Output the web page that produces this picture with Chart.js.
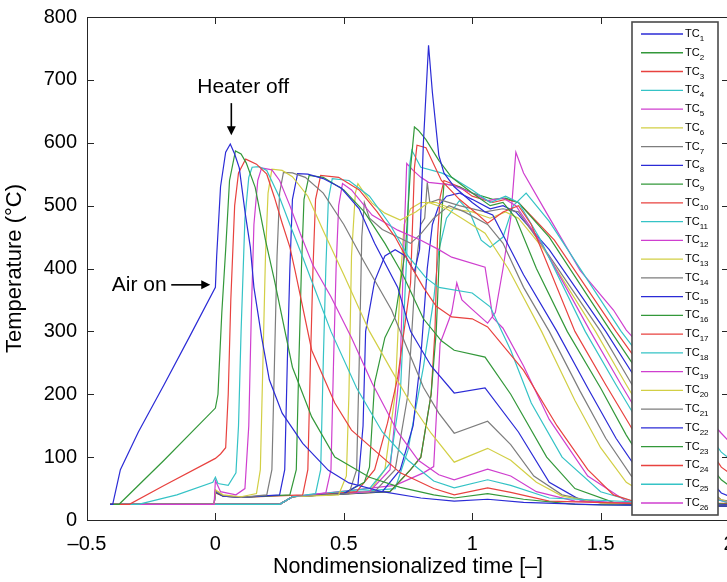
<!DOCTYPE html>
<html>
<head>
<meta charset="utf-8">
<script src="https://cdn.jsdelivr.net/npm/chart.js@4.4.1/dist/chart.umd.min.js"></script>
<style>
  html, body { margin: 0; padding: 0; background: #fff; overflow: hidden; }
  canvas { display: block; }
</style>
</head>
<body>
<canvas id="chart" width="760" height="582"></canvas>
<script>
// ── Thermocouple traces: [time, temperature °C] ─────────────────────────────

const tc1 = [[-0.41,25],[-0.40,25],[-0.37,80],[-0.3,140],[-0.2,215],[-0.1,292],[0,370],[0.005,420],[0.02,530],[0.04,585],[0.058,598],[0.075,582],[0.093,560],[0.116,488],[0.136,434],[0.15,370],[0.18,291],[0.21,223],[0.26,170],[0.34,122],[0.44,79],[0.52,59],[0.65,45],[0.8,35],[0.93,30],[1.06,33],[1.2,28],[1.5,24],[2.0,22]];
const tc2 = [[-0.41,25],[-0.375,25],[-0.2,95],[0,178],[0.01,200],[0.025,330],[0.04,430],[0.055,540],[0.078,587],[0.1,582],[0.12,568],[0.155,529],[0.195,445],[0.23,381],[0.3,243],[0.375,164],[0.465,100],[0.6,68],[0.72,52],[0.85,40],[0.93,35],[1.06,42],[1.2,33],[1.4,25],[2.0,22]];
const tc3 = [[-0.41,25],[-0.335,25],[-0.2,55],[0,98],[0.02,105],[0.04,115],[0.05,200],[0.06,350],[0.075,500],[0.09,552],[0.118,574],[0.16,566],[0.2,550],[0.23,513],[0.26,472],[0.29,434],[0.31,397],[0.375,270],[0.465,186],[0.53,143],[0.65,100],[0.72,75],[0.85,50],[0.93,40],[1.06,51],[1.15,44],[1.3,30],[2.0,22]];
const tc4 = [[-0.41,25],[-0.3,25],[-0.15,40],[-0.01,60],[0,68],[0.01,58],[0.05,55],[0.08,75],[0.09,150],[0.1,300],[0.115,480],[0.13,545],[0.143,561],[0.17,562],[0.2,556],[0.25,513],[0.29,470],[0.34,418],[0.375,380],[0.45,300],[0.55,210],[0.65,140],[0.75,95],[0.85,62],[0.93,51],[1.06,64],[1.15,55],[1.3,35],[2.0,22]];
const tc5 = [[-0.41,25],[-0.005,25],[0,63],[0.02,45],[0.08,40],[0.115,50],[0.13,150],[0.14,330],[0.15,470],[0.165,540],[0.18,560],[0.22,557],[0.25,540],[0.29,500],[0.33,456],[0.38,405],[0.45,355],[0.53,290],[0.61,218],[0.71,140],[0.79,95],[0.87,72],[0.93,64],[1.06,81],[1.15,70],[1.25,45],[1.4,30],[2.0,22]];
const tc6 = [[-0.41,25],[-0.005,25],[0,48],[0.03,40],[0.1,37],[0.16,42],[0.175,80],[0.185,250],[0.195,420],[0.205,520],[0.22,558],[0.26,556],[0.3,546],[0.36,515],[0.42,460],[0.5,390],[0.6,300],[0.686,238],[0.76,186],[0.84,138],[0.93,92],[1.06,114],[1.15,95],[1.25,60],[1.35,38],[1.5,27],[2.0,22]];
const tc7 = [[-0.41,25],[-0.005,25],[0,46],[0.03,39],[0.1,36],[0.2,40],[0.22,80],[0.23,250],[0.24,420],[0.25,520],[0.265,553],[0.3,552],[0.35,545],[0.42,520],[0.5,470],[0.58,410],[0.686,334],[0.75,270],[0.81,211],[0.87,170],[0.93,138],[1.06,157],[1.15,120],[1.24,70],[1.35,40],[1.5,27],[2.0,22]];
const tc8 = [[-0.41,25],[-0.005,25],[0,45],[0.03,38],[0.1,36],[0.25,40],[0.27,80],[0.28,250],[0.29,400],[0.3,510],[0.32,551],[0.36,550],[0.42,543],[0.49,528],[0.56,495],[0.62,440],[0.71,370],[0.76,300],[0.84,245],[0.93,202],[1.05,210],[1.18,140],[1.3,60],[1.42,32],[1.6,25],[2.0,22]];
const tc9 = [[-0.41,25],[-0.005,25],[0,44],[0.03,38],[0.1,36],[0.29,40],[0.315,80],[0.325,250],[0.335,400],[0.345,510],[0.365,548],[0.42,545],[0.5,525],[0.58,490],[0.66,440],[0.73,390],[0.81,320],[0.88,285],[0.93,270],[1.05,259],[1.15,200],[1.29,100],[1.4,50],[1.55,28],[2.0,22]];
const tc10 = [[-0.41,25],[-0.005,25],[0,43],[0.03,38],[0.1,36],[0.34,40],[0.36,80],[0.37,250],[0.38,400],[0.39,510],[0.41,548],[0.48,545],[0.56,525],[0.63,490],[0.7,450],[0.76,405],[0.81,370],[0.86,340],[0.92,323],[1.0,320],[1.06,307],[1.2,238],[1.33,150],[1.45,80],[1.55,40],[1.65,27],[2.0,22]];
const tc11 = [[-0.41,25],[0.25,25],[0.3,37],[0.39,42],[0.41,80],[0.42,250],[0.43,400],[0.44,510],[0.455,543],[0.52,540],[0.6,515],[0.68,470],[0.75,420],[0.82,385],[0.87,370],[1.0,361],[1.07,339],[1.15,270],[1.23,186],[1.35,100],[1.5,45],[1.65,27],[2.0,22]];
const tc12 = [[-0.41,25],[0.25,25],[0.3,37],[0.43,43],[0.45,80],[0.46,250],[0.47,400],[0.48,500],[0.495,535],[0.53,525],[0.61,485],[0.71,461],[0.8,445],[0.87,430],[0.92,418],[1.05,402],[1.07,350],[1.08,322],[1.12,305],[1.2,245],[1.3,160],[1.45,70],[1.6,30],[2.0,22]];
const tc13 = [[-0.41,25],[0.25,25],[0.3,37],[0.48,40],[0.51,70],[0.52,200],[0.53,420],[0.545,520],[0.555,535],[0.58,520],[0.61,504],[0.66,488],[0.72,477],[0.78,490],[0.83,505],[0.9,495],[0.97,477],[1.05,456],[1.14,400],[1.27,300],[1.4,190],[1.5,115],[1.6,60],[1.7,35],[1.85,25],[2.0,22]];
const tc14 = [[-0.41,25],[0.25,25],[0.3,37],[0.52,42],[0.55,80],[0.56,250],[0.57,450],[0.58,505],[0.6,480],[0.65,462],[0.71,450],[0.76,440],[0.8,455],[0.85,480],[0.91,500],[0.97,490],[1.06,470],[1.12,440],[1.2,370],[1.3,300],[1.42,205],[1.52,130],[1.62,70],[1.72,38],[1.85,26],[2.0,23]];
const tc15 = [[-0.41,25],[0.25,25],[0.3,37],[0.5,42],[0.555,55],[0.575,150],[0.585,300],[0.62,380],[0.66,420],[0.7,430],[0.74,420],[0.775,395],[0.795,430],[0.81,600],[0.83,755],[0.845,680],[0.87,580],[0.89,552],[0.93,530],[1.0,505],[1.05,490],[1.08,485],[1.2,390],[1.33,300],[1.45,210],[1.56,130],[1.66,70],[1.76,35],[1.88,26],[2.0,24]];
const tc16 = [[-0.41,25],[0.25,25],[0.3,37],[0.5,42],[0.58,60],[0.6,84],[0.62,218],[0.66,290],[0.7,323],[0.74,429],[0.76,560],[0.775,625],[0.79,620],[0.82,605],[0.87,572],[0.92,545],[1.0,520],[1.07,500],[1.12,505],[1.17,480],[1.25,400],[1.37,300],[1.5,210],[1.6,135],[1.7,70],[1.8,38],[1.92,27],[2.0,25]];
const tc17 = [[-0.41,25],[0.25,25],[0.3,37],[0.55,45],[0.62,80],[0.67,154],[0.71,227],[0.76,377],[0.775,560],[0.785,596],[0.82,592],[0.88,540],[0.95,510],[1.01,490],[1.06,472],[1.12,490],[1.18,500],[1.23,470],[1.4,300],[1.52,215],[1.63,140],[1.73,75],[1.83,40],[1.95,27],[2.0,26]];
const tc18 = [[-0.41,25],[0.25,25],[0.3,37],[0.6,50],[0.68,90],[0.72,200],[0.745,420],[0.755,560],[0.765,588],[0.8,561],[0.88,552],[0.92,545],[1.0,525],[1.07,505],[1.13,515],[1.18,505],[1.26,450],[1.44,300],[1.56,215],[1.67,140],[1.77,80],[1.87,42],[2.0,27]];
const tc19 = [[-0.41,25],[0.25,25],[0.3,37],[0.6,45],[0.68,80],[0.72,250],[0.735,450],[0.745,567],[0.77,556],[0.8,545],[0.83,537],[0.92,533],[1.0,520],[1.06,508],[1.12,512],[1.17,500],[1.27,440],[1.46,300],[1.58,215],[1.69,140],[1.79,80],[1.9,40],[2.0,27]];
const tc20 = [[-0.41,25],[0.25,25],[0.3,37],[0.6,45],[0.66,80],[0.7,200],[0.72,380],[0.735,470],[0.76,495],[0.8,505],[0.86,505],[0.92,495],[1.0,490],[1.07,480],[1.13,490],[1.18,480],[1.28,430],[1.48,300],[1.6,215],[1.71,140],[1.82,75],[1.93,38],[2.0,28]];
const tc21 = [[-0.41,25],[0.25,25],[0.3,37],[0.62,45],[0.7,80],[0.75,200],[0.78,400],[0.8,470],[0.815,480],[0.825,537],[0.835,505],[0.87,510],[0.95,500],[1.05,490],[1.12,495],[1.18,490],[1.3,420],[1.5,300],[1.63,210],[1.75,135],[1.86,75],[1.97,32],[2.0,30]];
const tc22 = [[-0.41,25],[0.25,25],[0.3,37],[0.65,45],[0.72,80],[0.77,150],[0.8,260],[0.825,400],[0.845,470],[0.87,500],[0.9,515],[0.95,520],[1.0,510],[1.07,495],[1.12,500],[1.17,490],[1.3,430],[1.52,300],[1.66,210],[1.78,135],[1.88,85],[1.97,43],[2.0,38]];
const tc23 = [[-0.41,25],[0.25,25],[0.3,37],[0.68,45],[0.76,80],[0.8,100],[0.84,200],[0.86,300],[0.875,450],[0.89,535],[0.95,530],[1.0,520],[1.08,510],[1.13,512],[1.18,505],[1.3,450],[1.54,300],[1.68,215],[1.8,150],[1.9,100],[1.97,64],[2.0,55]];
const tc24 = [[-0.41,25],[0.25,25],[0.3,37],[0.68,45],[0.76,80],[0.8,100],[0.84,200],[0.855,300],[0.865,450],[0.875,513],[0.89,540],[0.95,530],[1.0,515],[1.08,505],[1.13,510],[1.18,505],[1.32,445],[1.56,300],[1.7,220],[1.82,160],[1.92,115],[1.97,84],[2.0,75]];
const tc25 = [[-0.41,25],[0.25,25],[0.3,37],[0.7,50],[0.75,111],[0.81,243],[0.85,350],[0.87,429],[0.9,480],[0.95,508],[0.99,490],[1.035,445],[1.07,434],[1.12,450],[1.16,500],[1.21,520],[1.3,475],[1.58,300],[1.72,225],[1.84,170],[1.93,130],[1.97,108],[2.0,98]];
const tc26 = [[-0.41,25],[0.25,25],[0.3,37],[0.7,55],[0.81,75],[0.85,85],[0.865,200],[0.875,281],[0.89,297],[0.92,330],[0.94,377],[0.96,350],[1.0,335],[1.06,313],[1.09,330],[1.12,400],[1.15,480],[1.17,585],[1.2,552],[1.29,488],[1.42,397],[1.55,334],[1.6,302],[1.75,235],[1.9,170],[1.97,138],[2.0,125]];

const traces = [tc1, tc2, tc3, tc4, tc5, tc6, tc7, tc8, tc9, tc10, tc11, tc12, tc13,
                tc14, tc15, tc16, tc17, tc18, tc19, tc20, tc21, tc22, tc23, tc24, tc25, tc26];
const subscripts = traces.map((_, i) => String(i + 1));

const xTicks = [-0.5, 0, 0.5, 1, 1.5, 2];
const yTicks = [0, 100, 200, 300, 400, 500, 600, 700, 800];

// blue, green, red, cyan, magenta, yellow, grey — cycled
const COLORS = ['#2b2bd6', '#33983a', '#e8423f', '#35c3c6', '#cf3fcf', '#d2cf45', '#7d7d7d'];
const FONT = '"Liberation Sans", Arial, Helvetica, sans-serif';

function fmtTick(v) {
  return v < 0 ? '\u2013' + Math.abs(v) : String(v);
}

// ── Box, inward ticks, annotations, legend ──────────────────────────────────

const decorations = {
  id: 'decorations',
  afterDatasetsDraw(chart) {
    const { ctx, chartArea: a, scales: { x, y } } = chart;
    ctx.save();

    // axes box with MATLAB-style inward ticks
    ctx.strokeStyle = '#262626';
    ctx.lineWidth = 1;
    ctx.strokeRect(a.left + 0.5, a.top + 0.5, a.right - a.left, a.bottom - a.top);
    ctx.beginPath();
    xTicks.forEach(v => {
      const px = Math.round(x.getPixelForValue(v)) + 0.5;
      ctx.moveTo(px, a.bottom); ctx.lineTo(px, a.bottom - 7);
      ctx.moveTo(px, a.top);    ctx.lineTo(px, a.top + 7);
    });
    yTicks.forEach(v => {
      const py = Math.round(y.getPixelForValue(v)) + 0.5;
      ctx.moveTo(a.left, py);  ctx.lineTo(a.left + 7, py);
      ctx.moveTo(a.right, py); ctx.lineTo(a.right - 7, py);
    });
    ctx.stroke();

    // "Heater off" arrow
    ctx.fillStyle = '#000';
    ctx.strokeStyle = '#000';
    ctx.lineWidth = 1.6;
    ctx.font = '21px ' + FONT;
    ctx.textAlign = 'center';
    ctx.textBaseline = 'middle';
    ctx.fillText('Heater off', x.getPixelForValue(0.108), y.getPixelForValue(688));
    const hx = x.getPixelForValue(0.062);
    const hTop = y.getPixelForValue(663), hTip = y.getPixelForValue(612);
    ctx.beginPath(); ctx.moveTo(hx, hTop); ctx.lineTo(hx, hTip - 8); ctx.stroke();
    ctx.beginPath();
    ctx.moveTo(hx - 4.5, hTip - 9); ctx.lineTo(hx + 4.5, hTip - 9); ctx.lineTo(hx, hTip);
    ctx.closePath(); ctx.fill();

    // "Air on" arrow
    ctx.textAlign = 'right';
    const ay = y.getPixelForValue(374);
    ctx.fillText('Air on', x.getPixelForValue(-0.19), ay);
    const aStart = x.getPixelForValue(-0.172), aTip = x.getPixelForValue(-0.02);
    ctx.beginPath(); ctx.moveTo(aStart, ay); ctx.lineTo(aTip - 8, ay); ctx.stroke();
    ctx.beginPath();
    ctx.moveTo(aTip - 9, ay - 4.5); ctx.lineTo(aTip - 9, ay + 4.5); ctx.lineTo(aTip, ay);
    ctx.closePath(); ctx.fill();

    // legend box inside the axes
    const lx = 632, ly = 22, lw = 86, lh = 493;
    ctx.fillStyle = '#fff';
    ctx.fillRect(lx, ly, lw, lh);
    ctx.strokeStyle = '#4a4a4a';
    ctx.lineWidth = 1.6;
    ctx.strokeRect(lx, ly, lw, lh);

    const rowH = 18.76;
    ctx.textAlign = 'left';
    ctx.textBaseline = 'alphabetic';
    chart.data.datasets.forEach((ds, i) => {
      const ry = ly + 12 + i * rowH;
      ctx.strokeStyle = ds.borderColor;
      ctx.lineWidth = 1.3;
      ctx.beginPath(); ctx.moveTo(lx + 9, ry); ctx.lineTo(lx + 51, ry); ctx.stroke();
      ctx.fillStyle = '#000';
      ctx.font = '11px ' + FONT;
      ctx.fillText('TC', lx + 53, ry + 3);
      const w = ctx.measureText('TC').width;
      ctx.font = '8px ' + FONT;
      ctx.fillText(subscripts[i], lx + 53 + w, ry + 7);
    });

    ctx.restore();
  },
};

// ── Chart ────────────────────────────────────────────────────────────────────

const datasets = traces.map((pts, i) => ({
  label: 'TC' + subscripts[i],
  data: pts.map(([x, y]) => ({ x, y })),
  borderColor: COLORS[i % COLORS.length],
  borderWidth: 1.2,
  pointRadius: 0,
  fill: false,
  tension: 0,
}));

new Chart(document.getElementById('chart'), {
  type: 'line',
  data: { datasets },
  options: {
    responsive: false,
    animation: false,
    devicePixelRatio: 1,
    layout: { padding: { top: 17, right: 31, left: 0, bottom: 0 } },
    plugins: { legend: { display: false }, tooltip: { enabled: false } },
    scales: {
      x: {
        type: 'linear',
        min: -0.5, max: 2,
        afterBuildTicks: s => { s.ticks = xTicks.map(v => ({ value: v })); },
        afterFit: s => { s.height = 62; },
        grid: { display: false },
        border: { display: false },
        ticks: { color: '#000', font: { size: 20, family: FONT }, padding: 4, maxRotation: 0,
                 callback: v => fmtTick(v) },
        title: { display: true, text: 'Nondimensionalized time [\u2013]', color: '#000',
                 font: { size: 21.5, family: FONT }, padding: { top: 0, bottom: 2 } },
      },
      y: {
        min: 0, max: 800,
        afterBuildTicks: s => { s.ticks = yTicks.map(v => ({ value: v })); },
        afterFit: s => { s.width = 87; },
        grid: { display: false },
        border: { display: false },
        ticks: { color: '#000', font: { size: 20, family: FONT }, padding: 2 },
        title: { display: true, text: 'Temperature (\u00b0C)', color: '#000',
                 font: { size: 22, family: FONT }, padding: { top: 2, bottom: 0 } },
      },
    },
  },
  plugins: [decorations],
});
</script>
</body>
</html>
